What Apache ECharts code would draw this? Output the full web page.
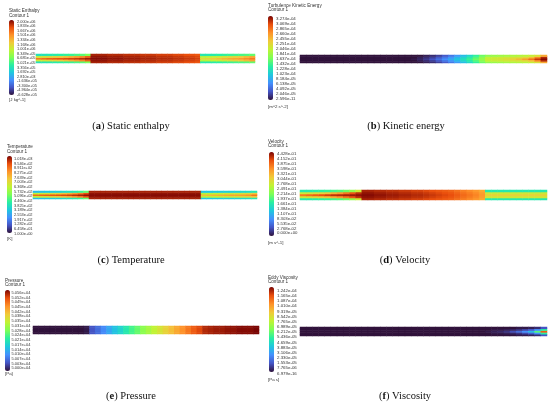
<!doctype html>
<html>
    <head>
        <meta charset="utf-8">
        <title>Contours</title>
        <style>
            html, body {
                margin: 0;
                padding: 0;
                background: #fff;
            }
            #main {
                width: 550px;
                height: 405px;
            }
        </style>
    </head>
    <body>
        <div id="main"></div>
        <script src="https://cdn.jsdelivr.net/npm/echarts@6.0.0/dist/echarts.min.js"></script>
        <script>
            // colour bar labels, top to bottom as printed
            var enthalpyTicks = ['2.000e+06', '1.833e+06', '1.667e+06', '1.501e+06', '1.334e+06', '1.168e+06', '1.001e+06', '8.349e+05', '6.685e+05', '5.021e+05', '3.356e+05', '1.692e+05', '2.810e+03', '-1.636e+05', '-3.300e+05', '-4.964e+05', '-6.628e+05'];
            var kineticTicks = ['3.274e-04', '3.069e-04', '2.865e-04', '2.660e-04', '2.455e-04', '2.251e-04', '2.046e-04', '1.841e-04', '1.637e-04', '1.432e-04', '1.228e-04', '1.023e-04', '8.184e-05', '6.138e-05', '4.092e-05', '2.046e-05', '2.596e-11'];
            var temperatureTicks = ['1.018e+03', '9.546e+02', '8.911e+02', '8.275e+02', '7.639e+02', '7.003e+02', '6.368e+02', '5.732e+02', '5.096e+02', '4.460e+02', '3.825e+02', '3.189e+02', '2.553e+02', '1.917e+02', '1.282e+02', '6.458e+01', '1.000e+00'];
            var velocityTicks = ['4.428e-01', '4.152e-01', '3.875e-01', '3.598e-01', '3.321e-01', '3.044e-01', '2.768e-01', '2.491e-01', '2.214e-01', '1.937e-01', '1.661e-01', '1.384e-01', '1.107e-01', '8.303e-02', '5.535e-02', '2.768e-02', '0.000e+00'];
            var pressureTicks = ['5.056e+04', '5.052e+04', '5.049e+04', '5.045e+04', '5.042e+04', '5.038e+04', '5.035e+04', '5.031e+04', '5.028e+04', '5.024e+04', '5.021e+04', '5.017e+04', '5.014e+04', '5.010e+04', '5.007e+04', '5.003e+04', '5.000e+04'];
            var viscosityTicks = ['1.242e-04', '1.165e-04', '1.087e-04', '1.010e-04', '9.319e-05', '8.542e-05', '7.765e-05', '6.989e-05', '6.212e-05', '5.436e-05', '4.659e-05', '3.883e-05', '3.106e-05', '2.330e-05', '1.553e-05', '7.765e-06', '6.979e-16'];

            // field levels along the pipe (% of colour bar), 40 columns: inlet 10, middle 20, outlet 10
            var enthalpyCore = [84, 86, 88, 89, 90, 91, 92, 93, 95, 97, 99, 99, 99, 98, 98, 98, 97, 97, 97, 96, 96, 96, 95, 95, 95, 94, 94, 93, 93, 92, 66, 68, 70, 72, 74, 76, 77, 79, 81, 84];
            var enthalpyMid = [62, 64, 66, 68, 70, 72, 75, 78, 82, 88, 98, 98, 98, 97, 97, 97, 96, 96, 96, 95, 95, 95, 94, 94, 94, 93, 93, 92, 92, 91, 58, 59, 60, 62, 64, 66, 68, 70, 73, 77];
            var enthalpyWall = [36, 37, 38, 39, 40, 41, 42, 44, 46, 50, 96, 96, 96, 95, 95, 95, 94, 94, 94, 93, 93, 93, 92, 92, 92, 91, 91, 90, 90, 89, 38, 38, 39, 40, 41, 42, 43, 44, 45, 47];

            var kineticCore = [0, 0, 0, 0, 0, 0, 0, 0, 0, 0, 0, 0, 0, 0, 0, 0, 0, 0, 1, 3, 6, 10, 15, 20, 25, 30, 36, 42, 48, 54, 62, 63, 64, 66, 69, 73, 78, 85, 93, 99];
            var kineticMid = [0, 0, 0, 0, 0, 0, 0, 0, 0, 0, 0, 0, 0, 0, 0, 0, 0, 0, 0, 2, 4, 7, 11, 16, 21, 27, 33, 39, 45, 52, 60, 61, 62, 63, 64, 65, 67, 72, 82, 95];
            var kineticWall = [0, 0, 0, 0, 0, 0, 0, 0, 0, 0, 0, 0, 0, 0, 0, 0, 0, 0, 0, 0, 2, 4, 7, 11, 16, 22, 28, 34, 41, 48, 53, 54, 55, 56, 57, 58, 59, 61, 65, 76];

            var temperatureCore = [86, 87, 88, 89, 90, 91, 92, 94, 96, 98, 99, 99, 99, 99, 99, 99, 99, 99, 99, 99, 99, 99, 99, 99, 99, 99, 99, 99, 99, 99, 72, 73, 74, 75, 76, 77, 77, 78, 80, 84];
            var temperatureMid = [60, 62, 64, 66, 68, 71, 74, 78, 83, 90, 98, 98, 98, 98, 98, 98, 98, 98, 98, 98, 98, 98, 98, 98, 98, 98, 98, 98, 98, 98, 58, 59, 60, 61, 62, 63, 64, 65, 66, 70];
            var temperatureWall = [28, 29, 30, 31, 32, 34, 36, 38, 42, 47, 96, 96, 96, 96, 96, 96, 96, 96, 96, 96, 96, 96, 96, 96, 96, 96, 96, 96, 96, 96, 30, 30, 31, 31, 32, 32, 33, 34, 35, 38];

            var velocityCore = [84, 86, 88, 90, 92, 94, 95, 96, 97, 98, 99, 99, 98, 98, 97, 97, 96, 96, 95, 95, 94, 93, 92, 91, 90, 88, 86, 84, 82, 79, 68, 68, 68, 68, 68, 68, 68, 68, 68, 68];
            var velocityMid = [62, 64, 66, 68, 71, 75, 79, 84, 89, 94, 98, 98, 97, 97, 96, 96, 95, 95, 94, 94, 93, 92, 91, 90, 89, 87, 85, 83, 81, 78, 63, 63, 63, 63, 63, 63, 63, 63, 63, 63];
            var velocityWall = [38, 38, 39, 40, 41, 43, 45, 48, 53, 62, 96, 96, 95, 95, 94, 94, 93, 93, 92, 92, 91, 90, 89, 88, 87, 85, 83, 81, 79, 76, 38, 38, 38, 38, 38, 38, 38, 38, 38, 38];

            var pressureLine = [0, 0, 0, 0, 0, 0, 0, 0, 0, 1, 10, 14, 19, 24, 29, 33, 38, 43, 47, 52, 56, 60, 64, 68, 72, 76, 80, 84, 88, 91, 95, 96, 97, 97, 98, 98, 99, 99, 99, 100];

            var viscosityCore = [0, 0, 0, 0, 0, 0, 0, 0, 0, 0, 0, 0, 0, 0, 0, 0, 0, 0, 0, 0, 0, 0, 0, 0, 0, 0, 0, 0, 0, 0, 1, 2, 3, 5, 9, 14, 20, 28, 45, 88];
            var viscosityMid = [0, 0, 0, 0, 0, 0, 0, 0, 0, 0, 0, 0, 0, 0, 0, 0, 0, 0, 0, 0, 0, 0, 0, 0, 0, 0, 0, 0, 0, 0, 0, 1, 1, 2, 3, 5, 8, 12, 20, 40];
            var viscosityWall = [0, 0, 0, 0, 0, 0, 0, 0, 0, 0, 0, 0, 0, 0, 0, 0, 0, 0, 0, 0, 0, 0, 0, 0, 0, 0, 0, 0, 0, 0, 0, 0, 0, 0, 0, 1, 1, 2, 4, 10];

            var panels = [
                { name: 'Static Enthalpy', unit: '[J kg^-1]', tag: 'a', caption: 'Static enthalpy', ticks: enthalpyTicks, core: enthalpyCore, mid: enthalpyMid, wall: enthalpyWall },
                { name: 'Turbulence Kinetic Energy', unit: '[m^2 s^-2]', tag: 'b', caption: 'Kinetic energy', ticks: kineticTicks, core: kineticCore, mid: kineticMid, wall: kineticWall },
                { name: 'Temperature', unit: '[K]', tag: 'c', caption: 'Temperature', ticks: temperatureTicks, core: temperatureCore, mid: temperatureMid, wall: temperatureWall },
                { name: 'Velocity', unit: '[m s^-1]', tag: 'd', caption: 'Velocity', ticks: velocityTicks, core: velocityCore, mid: velocityMid, wall: velocityWall },
                { name: 'Pressure', unit: '[Pa]', tag: 'e', caption: 'Pressure', ticks: pressureTicks, core: pressureLine, mid: pressureLine, wall: pressureLine },
                { name: 'Eddy Viscosity', unit: '[Pa s]', tag: 'f', caption: 'Viscosity', ticks: viscosityTicks, core: viscosityCore, mid: viscosityMid, wall: viscosityWall }
            ];

            // bar: [x, y, w, h], labels: [x, y, h], pipe: [x, y, w, h]
            var layout = [
                { bar: [9, 20, 5, 75], labels: [17, 21.5, 73.5], fs: 3.9, title: [9, 9], unit: [9, 100], pipe: [36, 54, 219, 9], cap: [131, 126] },
                { bar: [268, 16, 5, 84], labels: [276, 19, 80], fs: 4.4, title: [268, 3.5], unit: [268, 106.5], pipe: [300, 55, 247, 8], cap: [406, 126] },
                { bar: [7, 156, 5, 77], labels: [14, 159, 74.5], fs: 3.9, title: [7, 145], unit: [7, 238.5], pipe: [33, 191, 224, 8], cap: [131, 260] },
                { bar: [269, 152, 5, 84], labels: [277, 154.3, 79], fs: 4.3, title: [268, 139.3], unit: [268, 242.5], pipe: [300, 190, 247, 10], cap: [405, 260] },
                { bar: [5, 290, 5, 81], labels: [11.5, 292.7, 75.6], fs: 4.0, title: [5, 278.5], unit: [5, 374], pipe: [33, 326, 226, 8], cap: [131, 396] },
                { bar: [269, 287, 5, 85], labels: [277, 290.7, 82.6], fs: 4.4, title: [268, 275.2], unit: [268, 379.3], pipe: [300, 327, 247, 9], cap: [405, 396] }
            ];

            var turbo = ['#30123b', '#4454c4', '#4490fe', '#1fc8de', '#29efa2', '#7dff56', '#c1f334', '#f1ca3a', '#fe922a', '#ea4f0d', '#7a0403'];
            var sans = '"Liberation Sans", Arial, sans-serif';
            var serif = '"Liberation Serif", "Times New Roman", serif';

            var cols = [];
            for (var c = 0; c < 40; c++) {
                cols.push(c);
            }

            var grid = [], xAxis = [], yAxis = [], series = [], visualMap = [], graphic = [];

            panels.forEach(function (p, i) {
                var L = layout[i];

                grid.push({ left: L.pipe[0], top: L.pipe[1], width: L.pipe[2], height: L.pipe[3] });
                xAxis.push({ type: 'category', gridIndex: i, data: cols, show: false });
                yAxis.push({ type: 'category', gridIndex: i, data: ['w1', 'm1', 'c', 'm2', 'w2'], show: false });

                var rows = [p.wall, p.mid, p.core, p.mid, p.wall];
                var data = [];
                rows.forEach(function (r, y) {
                    r.forEach(function (v, x) {
                        data.push([x, y, v]);
                    });
                });
                series.push({
                    type: 'heatmap',
                    xAxisIndex: i,
                    yAxisIndex: i,
                    data: data,
                    silent: true
                });

                visualMap.push({
                    type: 'continuous',
                    seriesIndex: i,
                    min: 0,
                    max: 100,
                    calculable: false,
                    left: L.bar[0],
                    top: L.bar[1],
                    itemWidth: L.bar[2],
                    itemHeight: L.bar[3],
                    padding: 0,
                    inRange: { color: turbo }
                });

                graphic.push({
                    type: 'text', x: L.title[0], y: L.title[1],
                    style: { text: p.name + '\nContour 1', font: '4.6px ' + sans, lineHeight: 4.4, fill: '#333' }
                });
                graphic.push({
                    type: 'text', x: L.unit[0], y: L.unit[1],
                    style: { text: p.unit, font: '4.4px ' + sans, fill: '#333', verticalAlign: 'middle' }
                });
                graphic.push({
                    type: 'text', x: L.cap[0], y: L.cap[1],
                    style: {
                        text: '({b|' + p.tag + '}) ' + p.caption,
                        fontFamily: serif,
                        fontSize: 10.5,
                        fill: '#111',
                        align: 'center',
                        verticalAlign: 'middle',
                        rich: { b: { fontWeight: 'bold', fontFamily: serif, fontSize: 10.5, fill: '#111' } }
                    }
                });
            });

            // tick label columns beside each colour bar
            panels.forEach(function (p, i) {
                var L = layout[i];
                var g = panels.length + i;
                grid.push({ left: L.labels[0], top: L.labels[1], width: 1, height: L.labels[2] });
                xAxis.push({ type: 'value', gridIndex: g, show: false });
                yAxis.push({
                    type: 'category',
                    gridIndex: g,
                    data: p.ticks.slice().reverse(),
                    boundaryGap: false,
                    axisLine: { show: false },
                    axisTick: { show: false },
                    splitLine: { show: false },
                    axisLabel: {
                        inside: true,
                        interval: 0,
                        margin: 0,
                        fontSize: L.fs,
                        fontFamily: sans,
                        color: '#333'
                    }
                });
            });

            var chart = echarts.init(document.getElementById('main'));
            chart.setOption({
                animation: false,
                backgroundColor: '#fff',
                grid: grid,
                xAxis: xAxis,
                yAxis: yAxis,
                visualMap: visualMap,
                series: series,
                graphic: graphic
            });
        </script>
    </body>
</html>
